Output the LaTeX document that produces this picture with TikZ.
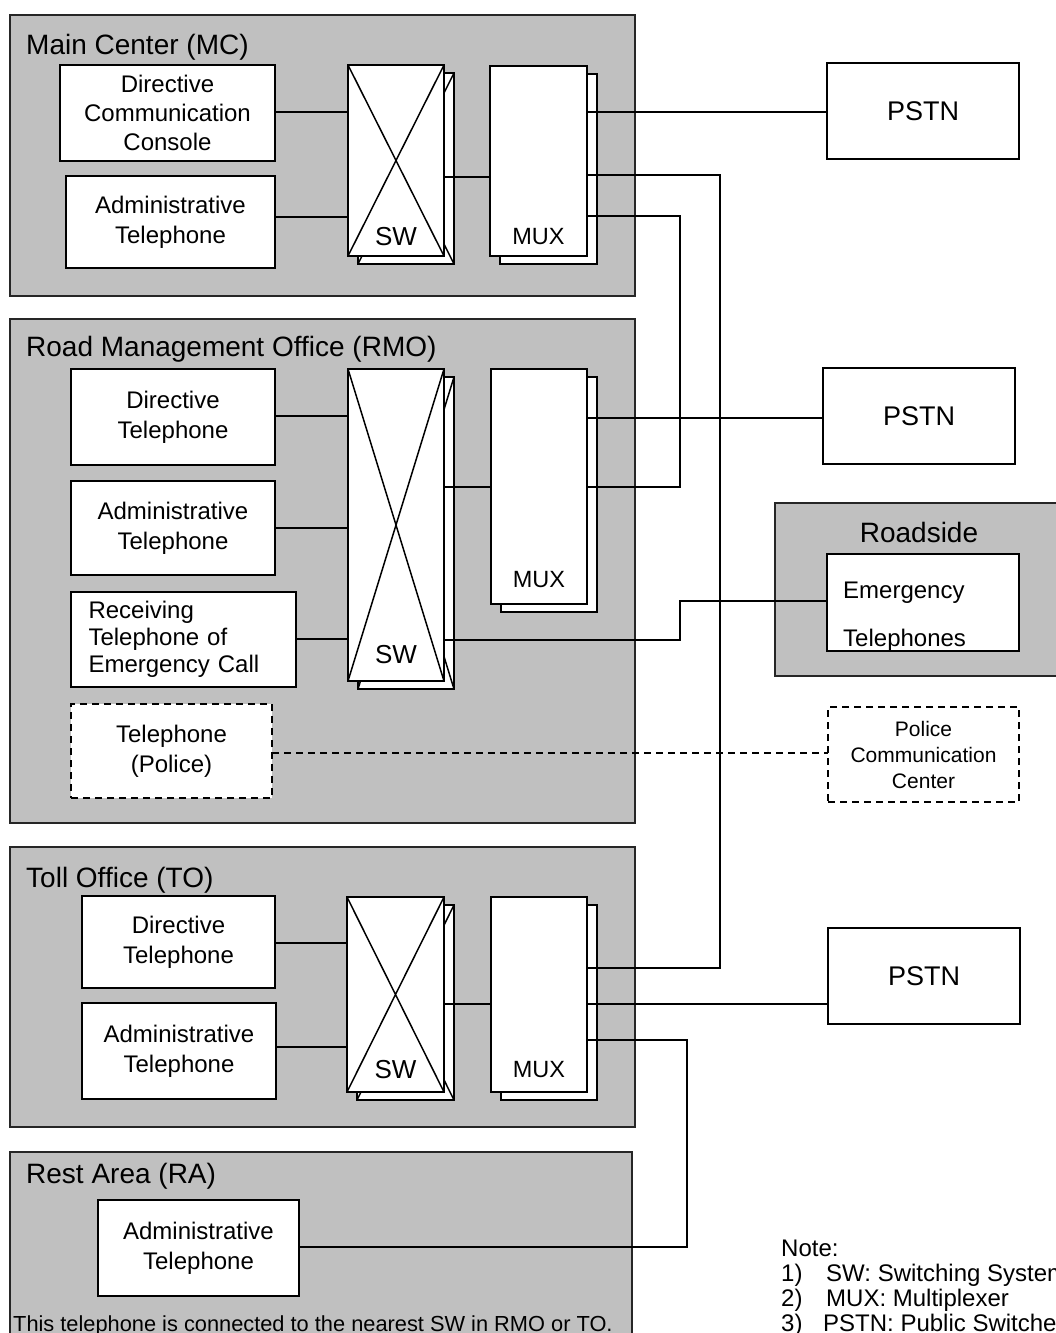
\documentclass[tikz,border=0pt]{standalone}
\usepackage{fontspec}
\setmainfont{Liberation Sans}
\usetikzlibrary{calc}
\definecolor{zonegrey}{RGB}{192,192,192}

% box from its corners: name, x1, y1, x2, y2, style, text
\newcommand\mkbox[7]{%
  \node[#6, minimum width={((#4)-(#2))*1pt}, minimum height={((#5)-(#3))*1pt}]
    (#1) at ({((#2)+(#4))/2},{((#3)+(#5))/2}) {#7};}
% stacked unit (two racks, the back one shifted)
\newcommand\mkrackpair[5]{%
  \mkbox{#1b}{(#2)+10}{(#3)+8}{(#4)+10}{(#5)+8}{rack}{}%
  \mkbox{#1}{#2}{#3}{#4}{#5}{rack}{}}
% switch: stacked racks, each with a cross
\newcommand\mkswitch[5]{%
  \mkbox{#1b}{(#2)+10}{(#3)+8}{(#4)+10}{(#5)+8}{rack}{}%
  \draw[xline] (#1b.north west) -- (#1b.south east) (#1b.north east) -- (#1b.south west);
  \mkbox{#1}{#2}{#3}{#4}{#5}{rack}{}%
  \draw[xline] (#1.north west) -- (#1.south east) (#1.north east) -- (#1.south west);}

\begin{document}
\begin{tikzpicture}[x=1pt,y=-1pt,
  zone/.style={draw=black!85, fill=zonegrey, line width=1.6, inner sep=0, outer sep=0},
  unit/.style={draw=black, fill=white, line width=1.8, inner sep=0, outer sep=0,
    align=center, font=\fontsize{24}{30}\selectfont},
  dunit/.style={unit, dash pattern=on 7pt off 5pt, line width=1.5},
  rack/.style={draw=black, fill=white, line width=1.8, inner sep=0, outer sep=0},
  xline/.style={line width=1.5},
  wire/.style={line width=1.7},
  dwire/.style={line width=1.5, dash pattern=on 7pt off 5pt},
  title/.style={anchor=base west, inner sep=0, font=\fontsize{28}{34}\selectfont},
  swtext/.style={inner sep=0, font=\fontsize{26}{30}\selectfont},
  muxtext/.style={inner sep=0, font=\fontsize{23.5}{28}\selectfont},
  pstn/.style={unit, font=\fontsize{27}{32}\selectfont},
  plain/.style={anchor=base west, inner sep=0, font=\fontsize{24}{30}\selectfont},
  notetext/.style={anchor=base west, inner sep=0, font=\fontsize{24}{28}\selectfont}]

\useasboundingbox (0,0) rectangle (1056,1333);

% ---------- grey areas ----------
\mkbox{mc}{10}{15}{635}{296}{zone}{}
\mkbox{rmo}{10}{319}{635}{823}{zone}{}
\mkbox{to}{10}{847}{635}{1127}{zone}{}
\mkbox{ra}{10}{1152}{632}{1345}{zone}{}
\mkbox{rs}{775}{503}{1070}{676}{zone}{}

\node[title] (mct) at (26,54) {Main Center (MC)};
\node[title] (rmot) at (26,356) {Road Management Office (RMO)};
\node[title] (tot) at (26,887) {Toll Office (TO)};
\node[title] (rat) at (26,1183) {Rest Area (RA)};
\node[title, anchor=base] (rst) at (919,542) {Roadside};

% ---------- Main Center ----------
\mkbox{dcc}{60}{65}{275}{161}{unit, font=\fontsize{24}{29}\selectfont}{Directive\\Communication\\Console}
\mkbox{mcat}{66}{176}{275}{268}{unit}{Administrative\\Telephone}
\mkswitch{sw1}{348}{65}{444}{256}
\node[swtext] (sw1t) at ($(sw1.south)+(0,-19)$) {SW};
\mkrackpair{mux1}{490}{66}{587}{256}
\node[muxtext] (mux1t) at ($(mux1.south)+(0,-19)$) {MUX};

% ---------- Road Management Office ----------
\mkbox{rdt}{71}{369}{275}{465}{unit}{Directive\\Telephone}
\mkbox{rmat}{71}{481}{275}{575}{unit}{Administrative\\Telephone}
\mkbox{rrec}{71}{592}{296}{687}{unit, align=left, text width=190pt, inner xsep=17pt,
  font=\fontsize{24}{27}\selectfont}{Receiving\\Telephone of\\Emergency Call}
\mkbox{rpol}{71}{704}{272}{798}{dunit}{Telephone\\(Police)}
\mkswitch{sw2}{348}{369}{444}{681}
\node[swtext] (sw2t) at ($(sw2.south)+(0,-26)$) {SW};
\mkrackpair{mux2}{491}{369}{587}{604}
\node[muxtext] (mux2t) at ($(mux2.south)+(0,-24)$) {MUX};

% ---------- Toll Office ----------
\mkbox{tdt}{82}{896}{275}{988}{unit}{Directive\\Telephone}
\mkbox{tat}{82}{1003}{276}{1099}{unit}{Administrative\\Telephone}
\mkswitch{sw3}{347}{897}{444}{1092}
\node[swtext] (sw3t) at ($(sw3.south)+(0,-22)$) {SW};
\mkrackpair{mux3}{491}{897}{587}{1092}
\node[muxtext] (mux3t) at ($(mux3.south)+(0,-22)$) {MUX};

% ---------- Rest Area ----------
\mkbox{raat}{98}{1200}{299}{1296}{unit}{Administrative\\Telephone}
\node[anchor=base west, inner sep=0, font=\fontsize{21.8}{26}\selectfont] (ranote)
  at (13,1331) {This telephone is connected to the nearest SW in RMO or TO.};

% ---------- outside parties ----------
\mkbox{pstn1}{827}{63}{1019}{159}{pstn}{PSTN}
\mkbox{pstn2}{823}{368}{1015}{464}{pstn}{PSTN}
\mkbox{pstn3}{828}{928}{1020}{1024}{pstn}{PSTN}
\mkbox{et}{827}{554}{1019}{651}{unit}{}
\node[plain] (et1) at (843,598) {Emergency};
\node[plain] (et2) at (843,646) {Telephones};
\mkbox{pcc}{828}{707}{1019}{802}{dunit, font=\fontsize{21}{26}\selectfont}{Police\\Communication\\Center}

% ---------- bus columns ----------
\coordinate (busA) at (720,0);
\coordinate (busB) at (680,0);
\coordinate (busC) at (687,0);

% ---------- connections ----------
% Main Center
\draw[wire] (dcc.east |- 0,112) -- (sw1.west |- 0,112);
\draw[wire] (mcat.east |- 0,217) -- (sw1.west |- 0,217);
\draw[wire] (sw1.east |- 0,177) -- (mux1.west |- 0,177);
\draw[wire] (mux1.east |- 0,112) -- (pstn1.west |- 0,112);
\draw[wire] (mux1.east |- 0,175) -- (busA |- 0,175) -- (busA |- 0,968) -- (mux3.east |- 0,968);
\draw[wire] (mux1.east |- 0,216) -- (busB |- 0,216) -- (busB |- 0,487) -- (mux2.east |- 0,487);
% Road Management Office
\draw[wire] (rdt.east |- 0,416) -- (sw2.west |- 0,416);
\draw[wire] (rmat.east |- 0,528) -- (sw2.west |- 0,528);
\draw[wire] (rrec.east |- 0,639) -- (sw2.west |- 0,639);
\draw[wire] (sw2.east |- 0,487) -- (mux2.west |- 0,487);
\draw[wire] (mux2.east |- 0,418) -- (pstn2.west |- 0,418);
\draw[wire] (sw2.east |- 0,640) -- (busB |- 0,640) -- (busB |- 0,601) -- (et.west |- 0,601);
\draw[dwire] (rpol.east |- 0,753) -- (pcc.west |- 0,753);
% Toll Office
\draw[wire] (tdt.east |- 0,943) -- (sw3.west |- 0,943);
\draw[wire] (tat.east |- 0,1047) -- (sw3.west |- 0,1047);
\draw[wire] (sw3.east |- 0,1004) -- (mux3.west |- 0,1004);
\draw[wire] (mux3.east |- 0,1004) -- (pstn3.west |- 0,1004);
\draw[wire] (mux3.east |- 0,1040) -- (busC |- 0,1040) -- (busC |- 0,1247) -- (raat.east |- 0,1247);

% ---------- legend ----------
\node[notetext] (note) at (781,1256) {Note:};
\node[notetext] (note1) at (781,1281) {\makebox[45pt][l]{1)}SW: Switching System};
\node[notetext] (note2) at (781,1306) {\makebox[45pt][l]{2)}MUX: Multiplexer};
\node[notetext] (note3) at (781,1331) {\makebox[42pt][l]{3)}PSTN: Public Switched Telephone Network};

\end{tikzpicture}
\end{document}
